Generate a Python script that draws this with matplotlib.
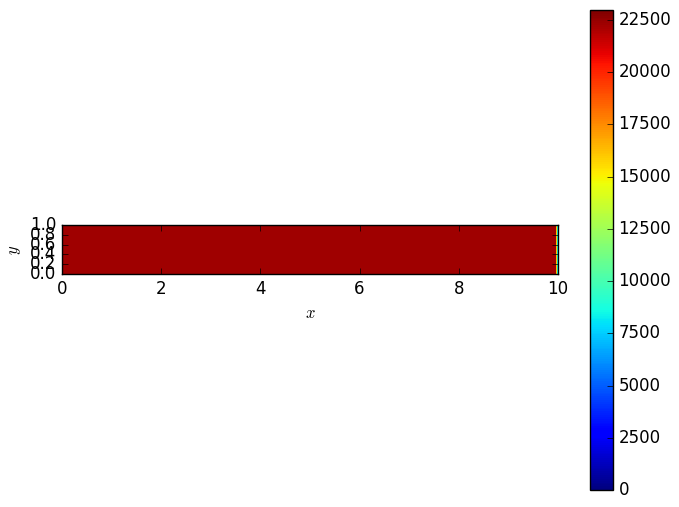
import numpy as np
import matplotlib
matplotlib.use("Agg")
import matplotlib.pyplot as plt

plt.style.use('classic')

# column edges along x and the value in each column (constant along y)
x_edges = [0.0, 0.02, 9.96, 9.98, 10.0]
y_edges = [0.0, 0.25, 0.5, 0.75, 1.0]
col_values = [18500.0, 22330.0, 16000.0, 8500.0]
vmin, vmax = 0.0, 22980.0
cbar_ticks = [0, 2500, 5000, 7500, 10000, 12500, 15000, 17500, 20000, 22500]

X, Y = np.meshgrid(x_edges, y_edges)
Z = np.tile(np.array(col_values), (len(y_edges) - 1, 1))

W, H = 679, 507
fig = plt.figure(figsize=(W / 100, H / 100), dpi=100)
ax = fig.add_axes([62 / W, (H - 274) / H, 496 / W, 49 / H])
mesh = ax.pcolormesh(X, Y, Z, cmap='jet', vmin=vmin, vmax=vmax)
ax.set_xlim(0, 10)
ax.set_ylim(0, 1)
ax.set_xlabel('$x$')
ax.set_ylabel('$y$')
cax = fig.add_axes([590 / W, (H - 490) / H, 23 / W, 480 / H])
cb = fig.colorbar(mesh, cax=cax, ticks=cbar_ticks)
fig.savefig('out.png', dpi=100)
